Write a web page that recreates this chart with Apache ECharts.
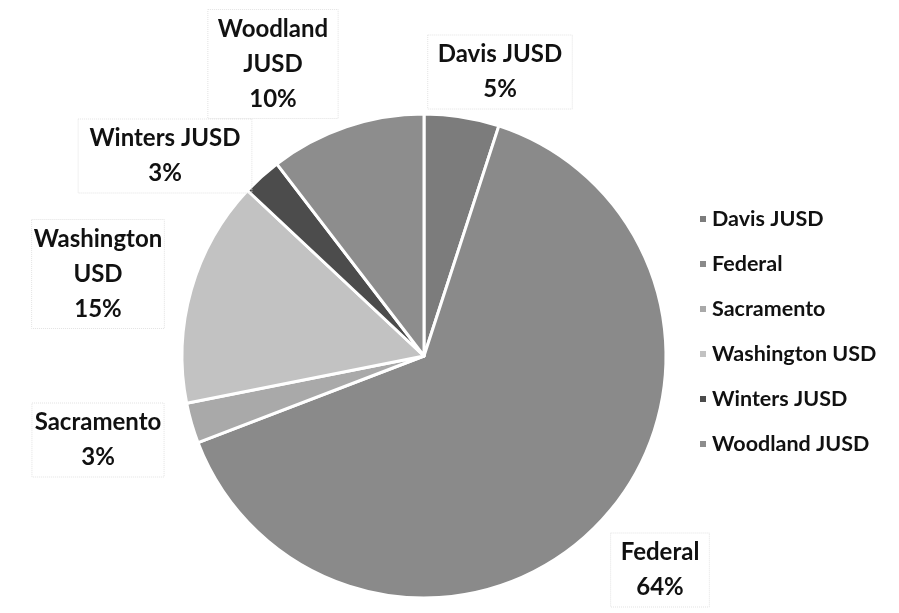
<!DOCTYPE html>
<html>
<head>
<meta charset="utf-8">
<script src="https://cdn.jsdelivr.net/npm/echarts@6/dist/echarts.min.js"></script>
<style>
html,body{margin:0;padding:0;background:#fff;}
#chart{width:899px;height:613px;}
</style>
</head>
<body>
<div id="chart"></div>
<script>
// Data
const categories = ['Davis JUSD', 'Federal', 'Sacramento', 'Washington USD', 'Winters JUSD', 'Woodland JUSD'];
const shares = [5.0, 64.1, 2.7, 15.1, 2.6, 10.4];
// Label text (multi-line as in the reference)
const labelNames = ['Davis JUSD', 'Federal', 'Sacramento', 'Washington\nUSD', 'Winters JUSD', 'Woodland\nJUSD'];
// Styling / placement (kept separate from data)
const sliceColors = ['#7c7c7c', '#8a8a8a', '#a9a9a9', '#c2c2c2', '#4c4c4c', '#8d8d8d'];
const labelCenters = [[500, 72], [660, 570], [98, 440], [98, 274], [165, 156], [273, 64]];

const total = shares.reduce((a, b) => a + b, 0);
const chart = echarts.init(document.getElementById('chart'), null, {renderer: 'canvas'});
const FONT = 'Lato';

chart.setOption({
  backgroundColor: '#ffffff',
  animation: false,
  legend: {
    orient: 'vertical',
    left: 693,
    top: 203,
    itemWidth: 8,
    itemHeight: 8,
    itemGap: 23,
    icon: 'rect',
    data: categories,
    textStyle: {fontFamily: FONT, fontWeight: 'bold', fontSize: 21.5, color: '#111', lineHeight: 22}
  },
  series: [{
    type: 'pie',
    center: [424, 356],
    radius: [0, 242],
    startAngle: 90,
    clockwise: true,
    data: categories.map((c, i) => ({
      name: c,
      value: shares[i],
      itemStyle: {color: sliceColors[i]}
    })),
    itemStyle: {borderColor: '#ffffff', borderWidth: 3},
    labelLine: {show: false},
    label: {
      show: true,
      position: 'outside',
      overflow: 'none',
      formatter: p => labelNames[p.dataIndex] + '\n' + Math.round(p.value / total * 100) + '%',
      fontFamily: FONT,
      fontWeight: 'bold',
      fontSize: 24,
      lineHeight: 35,
      color: '#111',
      align: 'center',
      verticalAlign: 'middle',
      padding: [2, 10],
      borderType: 'dotted',
      borderColor: '#e2e2e2',
      borderWidth: 1
    },
    labelLayout: p => ({
      x: labelCenters[p.dataIndex][0],
      y: labelCenters[p.dataIndex][1],
      align: 'center',
      verticalAlign: 'middle'
    })
  }]
});
</script>
</body>
</html>
